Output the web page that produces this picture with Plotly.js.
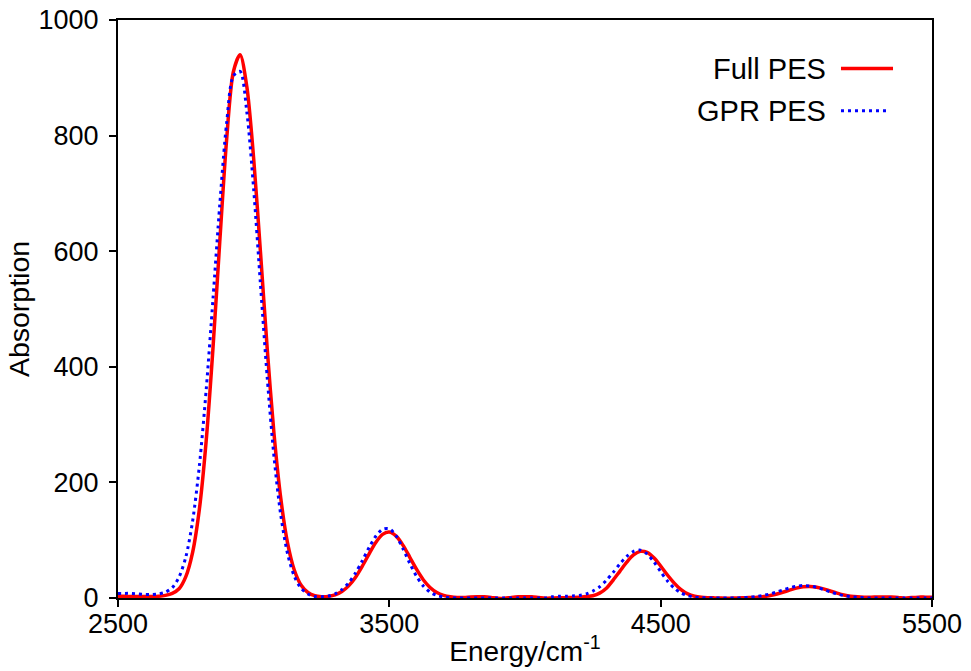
<!DOCTYPE html>
<html>
<head>
<meta charset="utf-8">
<script src="https://cdn.plot.ly/plotly-3.0.1.min.js"></script>
<style>html,body{margin:0;padding:0;background:#fff;}#chart{width:971px;height:671px;}</style>
</head>
<body>
<div id="chart"></div>
<script>
// Energy grid (cm^-1)
const energy = [2500,2525,2550,2575,2600,2625,2650,2675,2700,2725,2750,2775,2800,2825,2850,2875,2900,2925,2950,2975,
3000,3025,3050,3075,3100,3125,3150,3175,3200,3225,3250,3275,3300,3325,3350,3375,3400,3425,3450,3475,
3500,3525,3550,3575,3600,3625,3650,3675,3700,3725,3750,3775,3800,3825,3850,3875,3900,3925,3950,3975,
4000,4025,4050,4075,4100,4125,4150,4175,4200,4225,4250,4275,4300,4325,4350,4375,4400,4425,4450,4475,
4500,4525,4550,4575,4600,4625,4650,4675,4700,4725,4750,4775,4800,4825,4850,4875,4900,4925,4950,4975,
5000,5025,5050,5075,5100,5125,5150,5175,5200,5225,5250,5275,5300,5325,5350,5375,5400,5425,5450,5475,5500];

// Full PES absorption
const fullPES = [3,3,2.5,2.5,2.5,2.5,3,4.5,8,16,37,79,154,272,432,616,791,910,940,884,
760,599,431,284,172,95,48,22,9.5,4,2.3,2.8,5.5,11.3,21,35.6,54.7,76,96,110,
114,107,91.5,70.9,49.8,31.7,18.3,9.6,4.6,2.0,0.8,0.8,1.8,2.2,2,1,-0.5,-0.5,1,2,
2.2,2,0.8,-0.5,0,0.5,0.6,0.8,1.2,2.4,4,8.5,17,31,46.6,62,74.5,80.7,78.9,69.6,
55.4,39.8,25.8,14.5,7,3,1.2,0.5,0.2,0,-0.5,0,0.4,0.7,1.0,2.1,3.9,6.5,9.9,13.6,
17.1,19.4,20,18.6,15.8,12.1,8.5,5.3,3.1,2,1.5,1.5,1.8,1.8,1.6,1,-0.5,0.8,1.5,1.5,1.5];

// GPR PES absorption
const gprPES = [8,8,8,7,6,6,7,10,18,36,71,133,229,360,517,680,820,903,911,840,
707,543,381,244,143,76.5,37.4,16.7,6.8,2.5,2.2,3.3,7.2,14.4,26.2,43,64.3,87,106.8,118.9,
119.8,107.5,85.5,60.3,37.7,20.9,10.2,4.5,1.7,0.5,0,0,0,0,0,0,0,0,0,0,
0,0,0,0,2,3,3,3.5,4.5,7,12,19.4,30.6,44.4,59.1,72.1,80.7,82.8,76.3,62.5,
45.5,29.5,17,8.7,4.0,1.6,0.6,0,0,0,0,0,0.5,1.2,2.3,4.1,6.7,10,13.8,17.4,
20.2,21.5,20.8,18.4,14.7,10.6,7.0,4.2,2.2,1.0,0.4,0,0,0,0,0,0,0,0,0,0];

const seriesNames = ["Full PES", "GPR PES"];
const xTicks = [2500, 3500, 4500, 5500];
const yTicks = [0, 200, 400, 600, 800, 1000];

const FONT = '"Liberation Sans", Arial, Helvetica, sans-serif';

const traces = [
  {x: energy, y: fullPES, name: seriesNames[0], type: 'scatter', mode: 'lines',
   line: {color: '#ff0000', width: 3.5, shape: 'spline', smoothing: 0.8}},
  {x: energy, y: gprPES, name: seriesNames[1], type: 'scatter', mode: 'lines',
   line: {color: '#0000ff', width: 3, dash: '3px,4px', shape: 'spline', smoothing: 0.8}}
];

const axisCommon = {
  showgrid: false, zeroline: false, showline: true, linecolor: '#000', linewidth: 2,
  mirror: true, ticks: 'outside', ticklen: 7, tickwidth: 2, tickcolor: '#000',
  tickfont: {family: FONT, size: 27, color: '#000'}
};

const layout = {
  width: 971, height: 671,
  margin: {l: 118, r: 39, t: 20, b: 73, pad: 0},
  paper_bgcolor: '#fff', plot_bgcolor: '#fff',
  showlegend: false,
  font: {family: FONT, color: '#000'},
  xaxis: Object.assign({}, axisCommon, {
    range: [2500, 5500], tickmode: 'array', tickvals: xTicks, ticktext: xTicks.map(String),
    ticklabelstandoff: -6,
    title: {text: 'Energy/cm<sup>-1</sup>', font: {family: FONT, size: 28, color: '#000'}, standoff: 3}
  }),
  yaxis: Object.assign({}, axisCommon, {
    range: [0, 1000], tickmode: 'array', tickvals: yTicks, ticktext: yTicks.map(String),
    ticklabelstandoff: 5,
    title: {text: 'Absorption', font: {family: FONT, size: 28.5, color: '#000'}, standoff: 1}
  }),
  annotations: [
    {xref: 'paper', yref: 'paper', x: 0.8722, y: 0.9152, xanchor: 'right', yanchor: 'middle',
     text: seriesNames[0], showarrow: false, font: {family: FONT, size: 29, color: '#000'}},
    {xref: 'paper', yref: 'paper', x: 0.8722, y: 0.8426, xanchor: 'right', yanchor: 'middle',
     text: seriesNames[1], showarrow: false, font: {family: FONT, size: 29, color: '#000'}}
  ],
  shapes: [
    {type: 'line', xref: 'paper', yref: 'paper', x0: 0.8882, x1: 0.9521, y0: 0.9161, y1: 0.9161,
     line: {color: '#ff0000', width: 3.5}},
    {type: 'line', xref: 'paper', yref: 'paper', x0: 0.8882, x1: 0.9484, y0: 0.8431, y1: 0.8431,
     line: {color: '#0000ff', width: 3, dash: '3px,4px'}}
  ]
};

Plotly.newPlot('chart', traces, layout, {staticPlot: true, displayModeBar: false});
</script>
</body>
</html>
